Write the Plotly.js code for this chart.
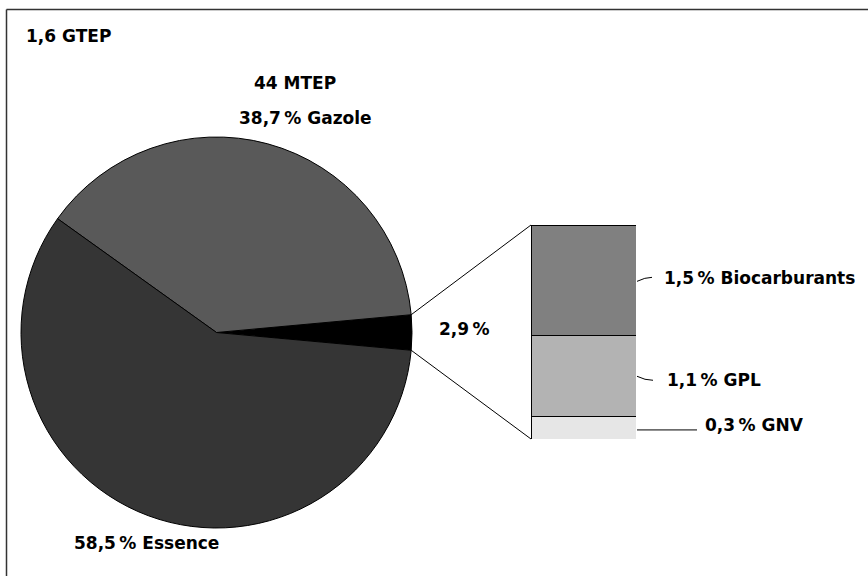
<!DOCTYPE html>
<html>
<head>
<meta charset="utf-8">
<script src="https://cdn.plot.ly/plotly-3.0.1.min.js"></script>
<style>html,body{margin:0;padding:0;background:#fff}#chart{width:868px;height:576px}</style>
</head>
<body>
<div id="chart"></div>
<script>
// ---- data ----
const pieLabels = ['Autres', 'Gazole', 'Essence'];
const pieValues = [2.9, 38.7, 58.5];
const pieColors = ['#000000', '#595959', '#353535'];

const barLabels = ['GNV', 'GPL', 'Biocarburants'];
const barValues = [0.3, 1.1, 1.5];
const barColors = ['#e6e6e6', '#b3b3b3', '#808080'];

const totalText = '1,6 GTEP';
const gazoleAmount = '44 MTEP';
const pieTexts = ['2,9\u2009%', '38,7\u2009% Gazole', '58,5\u2009% Essence'];
const barTexts = ['0,3\u2009% GNV', '1,1\u2009% GPL', '1,5\u2009% Biocarburants'];

// ---- layout geometry (pixels) ----
const W = 868, H = 576;
const px = x => x / W;
const py = y => 1 - y / H;
const pieBox = {x0: 21, x1: 412, y0: 137, y1: 528};
const barBox = {x0: 531, x1: 636, y0: 225, y1: 439};
const FONT = {family: 'DejaVu Sans, sans-serif', size: 17, color: '#000', weight: 700};

const pieTotal = pieValues.reduce((a, b) => a + b, 0);
const halfOther = pieValues[0] / pieTotal * 360 / 2;
const barTotal = barValues.reduce((a, b) => a + b, 0);

const traces = [{
  type: 'pie',
  labels: pieLabels,
  values: pieValues,
  sort: false,
  direction: 'counterclockwise',
  rotation: 90 - halfOther,
  marker: {colors: pieColors, line: {color: '#000', width: 1}},
  textinfo: 'none',
  hoverinfo: 'none',
  domain: {x: [px(pieBox.x0), px(pieBox.x1)], y: [py(pieBox.y1), py(pieBox.y0)]}
}];
barLabels.forEach((lab, i) => {
  traces.push({
    type: 'bar',
    x: [0],
    y: [barValues[i]],
    name: lab,
    width: 1,
    marker: {color: barColors[i], line: {color: '#000', width: 1}},
    hoverinfo: 'none',
    xaxis: 'x', yaxis: 'y'
  });
});

// pie geometry for connectors
const cx = (pieBox.x0 + pieBox.x1) / 2, cy = (pieBox.y0 + pieBox.y1) / 2, r = (pieBox.x1 - pieBox.x0) / 2;
const a = halfOther * Math.PI / 180;
const topPt = [cx + r * Math.cos(a), cy - r * Math.sin(a)];
const botPt = [cx + r * Math.cos(a), cy + r * Math.sin(a)];

const shapes = [
  // frame
  {type: 'line', xref: 'paper', yref: 'paper', x0: px(6.5), y0: py(9.5), x1: 1, y1: py(9.5), line: {color: '#333', width: 1.5}},
  {type: 'line', xref: 'paper', yref: 'paper', x0: px(6.5), y0: py(9.5), x1: px(6.5), y1: 0, line: {color: '#333', width: 1.5}},
  // connectors pie -> bar
  {type: 'line', xref: 'paper', yref: 'paper', x0: px(topPt[0]), y0: py(topPt[1]), x1: px(barBox.x0), y1: py(barBox.y0), line: {color: '#000', width: 1}},
  {type: 'line', xref: 'paper', yref: 'paper', x0: px(botPt[0]), y0: py(botPt[1]), x1: px(barBox.x0), y1: py(barBox.y1), line: {color: '#000', width: 1}},
];

// bar label leaders (computed from segment middles)
let cum = 0;
const segMid = barValues.map(v => { const m = cum + v / 2; cum += v; return m; });
const yOf = v => barBox.y1 - (barBox.y1 - barBox.y0) * v / barTotal;
const leaderEnds = [[697, 0], [653, 4], [652, -4]];
const labelX = [703, 665, 662];
barValues.forEach((v, i) => {
  const y0 = yOf(segMid[i]) + (i === 0 ? 2 : 0) + (i === 2 ? 1 : 0);
  const x0 = barBox.x1 + 1;
  const x1 = leaderEnds[i][0];
  const y1 = y0 + leaderEnds[i][1];
  let path;
  if (i === 0) {
    path = `M ${px(x0)},${py(y0)} L ${px(x1)},${py(y1)}`;
  } else {
    path = `M ${px(x0)},${py(y0)} Q ${px(x0 + 8)},${py(y1)} ${px(x1)},${py(y1)}`;
  }
  shapes.push({type: 'path', xref: 'paper', yref: 'paper', path: path, line: {color: '#000', width: 1}});
});

const ann = (text, x, y, xanchor) => ({
  text: text, x: px(x), y: py(y), xref: 'paper', yref: 'paper',
  xanchor: xanchor || 'center', yanchor: 'middle', showarrow: false, font: FONT
});
const annotations = [
  ann(totalText, 24, 36, 'left'),
  ann(gazoleAmount, 295, 83),
  ann(pieTexts[1], 305, 118),
  ann(pieTexts[2], 72, 543, 'left'),
  ann(pieTexts[0], 437, 329, 'left'),
  ann(barTexts[2], labelX[2], 278, 'left'),
  ann(barTexts[1], labelX[1], 380, 'left'),
  ann(barTexts[0], labelX[0], 425, 'left'),
];

const layout = {
  width: W, height: H,
  margin: {l: 0, r: 0, t: 0, b: 0, pad: 0},
  paper_bgcolor: '#fff', plot_bgcolor: 'rgba(0,0,0,0)',
  showlegend: false,
  barmode: 'stack',
  bargap: 0,
  xaxis: {domain: [px(barBox.x0), px(barBox.x1)], range: [-0.5, 0.5], visible: false, fixedrange: true},
  yaxis: {domain: [py(barBox.y1), py(barBox.y0)], range: [0, barTotal], visible: false, fixedrange: true},
  shapes: shapes,
  annotations: annotations,
  font: FONT
};

Plotly.newPlot('chart', traces, layout, {displayModeBar: false, staticPlot: true});
</script>
</body>
</html>
